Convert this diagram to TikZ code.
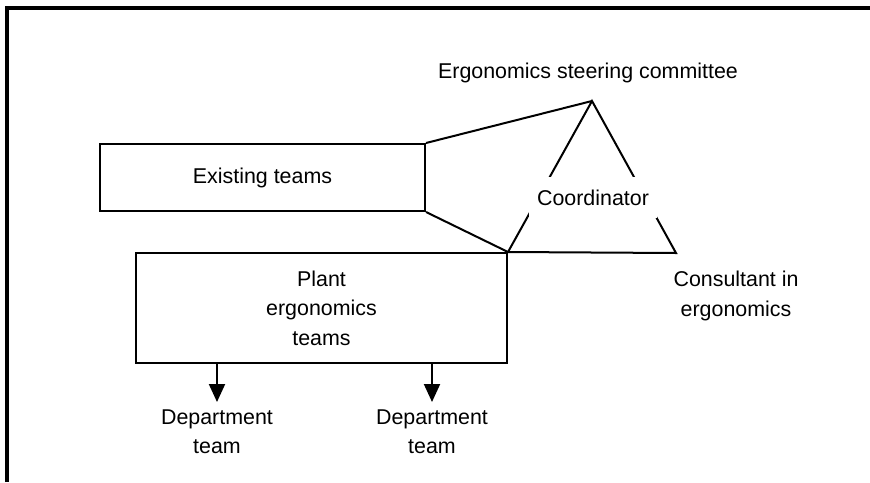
\documentclass[tikz,border=0pt]{standalone}
\usepackage{fontspec}
\setmainfont{Liberation Sans}
\usetikzlibrary{arrows.meta}
\tikzset{
  teambox/.style={draw,line width=1pt,inner sep=0pt},
  lbl/.style={align=center,font=\fontsize{10.7}{14.8}\selectfont},
  down/.style={-{Triangle[width=8pt,length=9pt]}},
}
\begin{document}
\begin{tikzpicture}[x=0.5pt,y=-0.5pt,line width=1pt]
\useasboundingbox (0,0) rectangle (870,482);
% frame
\draw[line width=2pt] (7,482) -- (7,8) -- (870,8);

\node[teambox,lbl,minimum width=162.5pt,minimum height=33.5pt] (ex) at (262.5,177.5) {Existing teams};
\node[teambox,lbl,minimum width=185.5pt,minimum height=55pt] (plant) at (321.5,308) {Plant\\ergonomics\\teams};

% steering committee triangle
\coordinate (apex) at (592,101);
\coordinate (base) at (676,253);
\draw (plant.north east) -- (apex) -- (base) -- cycle;
\draw (ex.north east) -- (apex);
\draw (ex.south east) -- (plant.north east);
\node[lbl,fill=white,minimum height=20.5pt,inner xsep=4pt] (coord) at (593,197.5) {Coordinator};
\node[lbl] (esc) at (588,73) {Ergonomics steering committee};
\node[lbl] (cons) at (736,296) {Consultant in\\ergonomics};

% department teams
\node[lbl,anchor=north] (dept1) at (217,402) {Department\\team};
\node[lbl,anchor=north] (dept2) at (432,402) {Department\\team};
\draw[down] (plant.south -| dept1.north) -- (dept1.north);
\draw[down] (plant.south -| dept2.north) -- (dept2.north);
\end{tikzpicture}
\end{document}
